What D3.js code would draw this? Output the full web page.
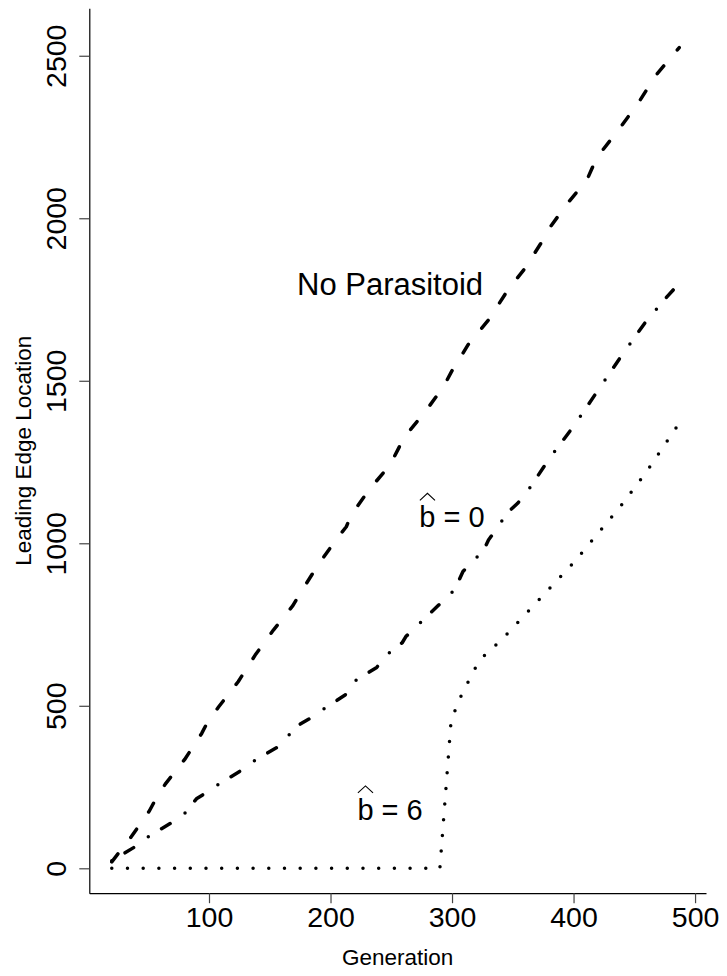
<!DOCTYPE html>
<html>
<head>
<meta charset="utf-8">
<script src="https://cdn.jsdelivr.net/npm/d3@7"></script>
<style>
  body { margin: 0; background: #fff; }
  text { font-family: "Liberation Sans", Arial, Helvetica, sans-serif; fill: #000; }
</style>
</head>
<body>
<svg id="chart" width="727" height="976"></svg>
<script>
// Leading edge location of the invasion front over generations

// No parasitoid
const noParasitoidGen = [20, 36, 51, 56, 64, 80, 94, 99, 108, 124, 138, 153, 169, 175, 189, 204, 213, 217, 232, 249, 256, 261, 278, 293, 300, 306, 313, 330, 345, 360, 374, 379, 395, 411, 417, 423, 439, 454, 468, 487];
const noParasitoidLoc = [20, 97, 177, 212, 259, 335, 415, 451, 497, 574, 656, 733, 808, 846, 929, 1008, 1051, 1087, 1166, 1241, 1292, 1328, 1405, 1482, 1531, 1566, 1610, 1687, 1774, 1846, 1928, 1964, 2046, 2118, 2169, 2205, 2282, 2359, 2441, 2525];

// b-hat = 0
const bHat0Gen = [20, 39, 50, 69, 80, 90, 97, 106, 126, 136, 156, 165, 173, 183, 193, 212, 219, 238, 246, 256, 259, 262, 272, 289, 298, 304, 309, 326, 330, 338, 345, 354, 361, 380, 400, 420, 440, 462, 470, 477, 487];
const bHat0Loc = [23, 66, 97, 140, 169, 215, 231, 254, 300, 328, 372, 407, 439, 461, 487, 533, 574, 618, 656, 687, 694, 713, 749, 810, 838, 872, 913, 979, 1010, 1051, 1092, 1123, 1154, 1260, 1360, 1470, 1580, 1695, 1728, 1759, 1800];

// b-hat = 6
const bHat6Gen = [20, 290, 299, 303, 308, 314, 320, 328, 340, 360, 380, 400, 420, 440, 460, 487];
const bHat6Loc = [0, 0, 443, 492, 535, 579, 622, 661, 700, 780, 860, 940, 1030, 1120, 1220, 1370];

const xTickValues = [100, 200, 300, 400, 500];
const yTickValues = [0, 500, 1000, 1500, 2000, 2500];

// Curve annotations: label text, value after the hat, position (generation, location of baseline)
const labelNames = ["No Parasitoid", "b", "b"];
const labelSuffix = ["", " = 0", " = 6"];
const labelHat = [false, true, true];
const labelGen = [249, 300, 249];
const labelLoc = [1764, 1049, 149];
const labelSize = [31, 29, 29];

const svg = d3.select("#chart");

const x = d3.scaleLinear().domain([1.5, 509]).range([89.3, 706]);
const y = d3.scaleLinear().domain([-76.6, 2646]).range([893.2, 8.3]);

const toPoints = (gens, locs) => gens.map((g, i) => ({ g, v: locs[i] }));
const line = d3.line().x(d => x(d.g)).y(d => y(d.v));

// Axes (L-shaped frame)
const xAxis = svg.append("g")
  .attr("transform", `translate(0,${y.range()[0]})`)
  .call(d3.axisBottom(x).tickValues(xTickValues).tickFormat(d3.format("d")).tickSize(10).tickSizeOuter(0));
xAxis.select(".domain").attr("stroke", "#000").attr("stroke-width", 1.2);
xAxis.selectAll(".tick line").attr("stroke", "#444").attr("stroke-width", 1.2);
xAxis.selectAll(".tick text")
  .attr("y", 34).attr("dy", 0)
  .style("font-size", "28.5px");

const yAxis = svg.append("g")
  .attr("transform", `translate(${x.range()[0]},0)`)
  .call(d3.axisLeft(y).tickValues(yTickValues).tickFormat(d3.format("d")).tickSize(10).tickSizeOuter(0));
yAxis.select(".domain").attr("stroke", "#000").attr("stroke-width", 1.2);
yAxis.selectAll(".tick line").attr("stroke", "#444").attr("stroke-width", 1.2);
yAxis.selectAll(".tick text")
  .attr("x", 0).attr("y", -23).attr("dy", 0)
  .attr("text-anchor", "middle")
  .attr("transform", "rotate(-90)")
  .style("font-size", "28.5px");

// Axis titles
const plotMidX = (x.range()[0] + x.range()[1]) / 2;
const plotMidY = (y.range()[0] + y.range()[1]) / 2;
svg.append("text")
  .attr("x", plotMidX).attr("y", 965)
  .attr("text-anchor", "middle")
  .style("font-size", "22.5px")
  .text("Generation");
svg.append("text")
  .attr("transform", `translate(31,${plotMidY}) rotate(-90)`)
  .attr("text-anchor", "middle")
  .style("font-size", "22.5px")
  .text("Leading Edge Location");

// Series
const series = [
  { pts: toPoints(noParasitoidGen, noParasitoidLoc), dash: "10,21" },
  { pts: toPoints(bHat0Gen, bHat0Loc), dash: "0,15.5,10,18.3" },
  { pts: toPoints(bHat6Gen, bHat6Loc), dash: "0,15.7" }
];
svg.append("g").selectAll("path")
  .data(series)
  .join("path")
  .attr("d", d => line(d.pts))
  .attr("fill", "none")
  .attr("stroke", "#000")
  .attr("stroke-width", 3.5)
  .attr("stroke-linecap", "round")
  .attr("stroke-linejoin", "round")
  .attr("stroke-dasharray", d => d.dash);

// Curve labels
labelNames.forEach((name, i) => {
  const base = y(labelLoc[i]);
  const t = svg.append("text")
    .attr("x", x(labelGen[i]))
    .attr("y", base)
    .attr("text-anchor", "middle")
    .style("font-size", `${labelSize[i]}px`);
  t.append("tspan").text(name);
  if (labelSuffix[i]) t.append("tspan").text(labelSuffix[i]);
  if (labelHat[i]) {
    const box = t.node().getExtentOfChar(0);
    const top = base - 34;
    svg.append("path")
      .attr("d", `M${box.x + 0.5},${top + 7} L${box.x + box.width / 2},${top} L${box.x + box.width - 0.5},${top + 7}`)
      .attr("fill", "none")
      .attr("stroke", "#000")
      .attr("stroke-width", 1.1);
  }
});
</script>
</body>
</html>
